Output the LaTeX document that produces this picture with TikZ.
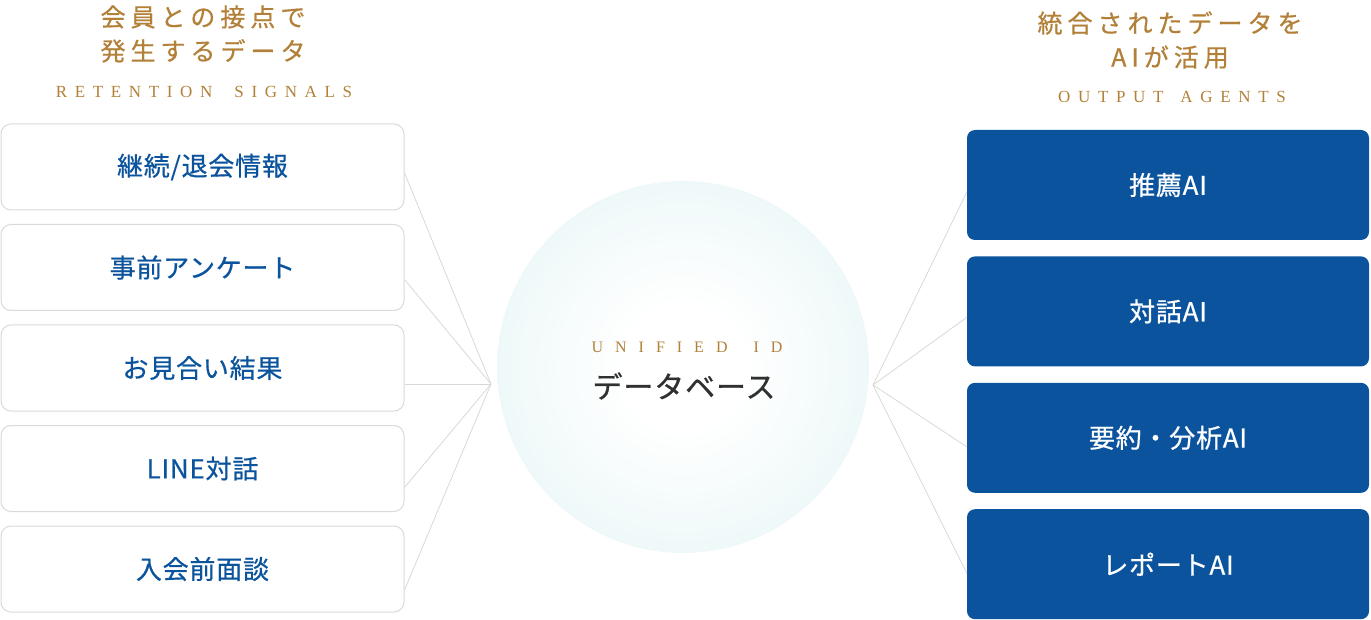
\documentclass[tikz,border=0pt]{standalone}
\usepackage{fontspec}
\usetikzlibrary{positioning}
\newfontfamily\jpfont[FakeBold=0.6, LetterSpace=3]{Noto Sans CJK JP}
\newfontfamily\jpspaced[FakeBold=0.6, LetterSpace=20]{Noto Sans CJK JP}
\newfontfamily\capsfont[LetterSpace=45]{Liberation Serif}
\newfontfamily\idfont[LetterSpace=75]{Liberation Serif}
\definecolor{gold}{RGB}{178,128,56}
\definecolor{navy}{RGB}{11,84,157}
\definecolor{boxline}{RGB}{218,218,218}
\definecolor{wire}{RGB}{216,216,216}
\definecolor{mint}{RGB}{221,241,242}
\definecolor{ink}{RGB}{48,48,48}
\pgfdeclareradialshading{dbglow}{\pgfpoint{0bp}{0bp}}{color(0bp)=(white); color(8bp)=(white); color(44bp)=(mint); color(50bp)=(mint)}

\begin{document}
\begin{tikzpicture}[x=1pt,y=1pt,
    signal/.style={draw=boxline, line width=1pt, fill=white, rounded corners=10pt,
        minimum width=403pt, minimum height=86pt, text=navy,
        font=\jpfont\fontsize{26}{26}\selectfont},
    agent/.style={fill=navy, rounded corners=8pt, minimum width=402pt,
        minimum height=110pt, text=white, font=\jpfont\fontsize{26}{26}\selectfont},
    heading/.style={text=gold, align=center, font=\jpspaced\fontsize{25}{34}\selectfont},
    caption/.style={text=gold, font=\capsfont\fontsize{17}{17}\selectfont},
    wire/.style={draw=wire, line width=0.8pt}]

    \useasboundingbox (0,0) rectangle (1371,-620);

    % headings
    \node[heading] (lhead) at (203,-34) {会員との接点で\\発生するデータ};
    \node[caption] (lcap) at (204,-92) {\mbox{RETENTION}\kern 22pt\mbox{SIGNALS}};
    \node[heading] (rhead) at (1170,-40) {統合されたデータを\\AIが活用};
    \node[caption] (rcap) at (1172,-97) {\mbox{OUTPUT}\kern 17pt\mbox{AGENTS}};

    % input signals
    \node[signal] (s1) at (202.5,-167) {継続/退会情報};
    \node[signal, below=13.5pt of s1] (s2) {事前アンケート};
    \node[signal, below=13.5pt of s2] (s3) {お見合い結果};
    \node[signal, below=13.5pt of s3] (s4) {LINE対話};
    \node[signal, below=13.5pt of s4] (s5) {入会前面談};

    % database
    \node[circle, minimum size=372pt, shading=dbglow] (db) at (683,-367) {};
    \node[text=gold, font=\idfont\fontsize{16}{16}\selectfont] (uid) at (687,-347) {\mbox{UNIFIED}\kern 26pt\mbox{ID}};
    \node[text=ink, font=\jpfont\fontsize{30}{30}\selectfont] (dbname) at (684,-386) {データベース};

    % agents
    \node[agent] (a1) at (1168,-185) {推薦AI};
    \node[agent, below=16pt of a1] (a2) {対話AI};
    \node[agent, below=16pt of a2] (a3) {要約・分析AI};
    \node[agent, below=16pt of a3] (a4) {レポートAI};

    \coordinate (lhub) at (491,-384);
    \coordinate (rhub) at (873,-385);
    \foreach \i/\dy in {1/-6,2/-12,3/-16,4/-19,5/-21}
        \draw[wire] ([yshift=\dy pt]s\i.east) -- (lhub);
    \foreach \i/\dy in {1/-7,2/-6,3/-9,4/-9}
        \draw[wire] (rhub) -- ([yshift=\dy pt]a\i.west);

\end{tikzpicture}
\end{document}
